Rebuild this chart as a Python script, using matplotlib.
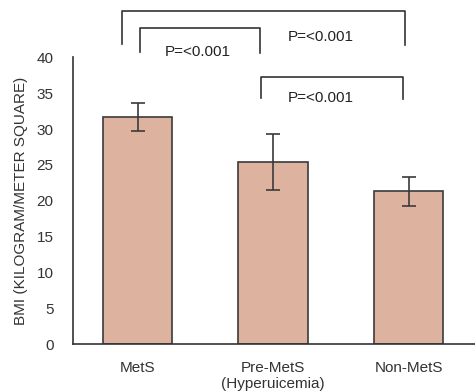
import matplotlib
matplotlib.use("Agg")
import matplotlib.pyplot as plt

# data
groups = ["MetS", "Pre-MetS\n(Hyperuicemia)", "Non-MetS"]
bmi = [31.7, 25.4, 21.3]
bmi_err = [1.9, 3.9, 2.0]
yticks = [0, 5, 10, 15, 20, 25, 30, 35, 40]
p_label = "P=<0.001"

plt.rcParams['font.family'] = ['Liberation Sans Narrow', 'Liberation Sans', 'DejaVu Sans']
plt.rcParams['font.size'] = 11

fig = plt.figure(figsize=(4.75, 3.92), dpi=100)
ax = fig.add_axes([0.1537, 0.1217, 0.8463, 0.732])

x = range(len(groups))
ax.bar(x, bmi, width=0.51, color="#ddb3a0", edgecolor="#3a3a3a", linewidth=1.2,
       yerr=bmi_err, error_kw=dict(ecolor="#3a3a3a", elinewidth=1.2, capsize=5, capthick=1.2))

ax.set_xlim(-0.476, 2.49)
ax.set_ylim(0, 40)
ax.set_yticks(yticks)
ax.set_xticks(list(x))
ax.set_xticklabels(groups, color="#333333")
ax.tick_params(axis="both", length=0, colors="#333333")
ax.tick_params(axis="x", pad=12)
ax.tick_params(axis="y", pad=14)
ax.set_ylabel("BMI (KILOGRAM/METER SQUARE)", color="#333333", labelpad=6)
for s in ["top", "right"]:
    ax.spines[s].set_visible(False)
for s in ["left", "bottom"]:
    ax.spines[s].set_color("#333333")
    ax.spines[s].set_linewidth(1.2)

# significance brackets
def bracket(x0, x1, y, y0, y1):
    ax.plot([x0, x0, x1, x1], [y0, y, y, y1], color="#333333", lw=1.2, clip_on=False)

bracket(-0.114, 1.974, 46.4, 41.9, 41.7)
bracket(0.021, 0.906, 44.15, 40.75, 40.6)
bracket(0.909, 1.957, 37.3, 34.35, 34.15)

ax.text(0.446, 40.8, p_label, ha="center", va="center", color="#222222")
ax.text(1.352, 42.9, p_label, ha="center", va="center", color="#222222")
ax.text(1.352, 34.35, p_label, ha="center", va="center", color="#222222")

fig.savefig("out.png", dpi=100)
